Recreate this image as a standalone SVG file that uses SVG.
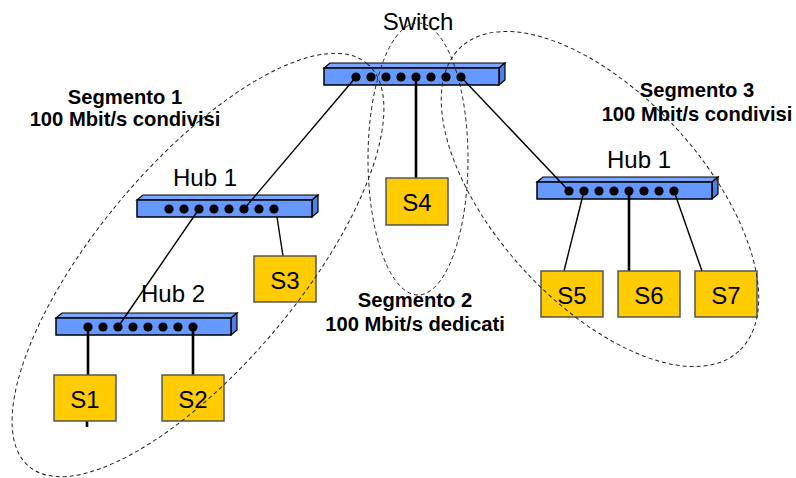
<svg xmlns="http://www.w3.org/2000/svg" width="796" height="478" viewBox="0 0 796 478">
<defs>
<style>
.front{fill:#6699FF;stroke:#000;stroke-width:1.5}
.top{fill:#7BA6FF;stroke:#000;stroke-width:1.2}
.side{fill:#4F80E6;stroke:#000;stroke-width:1.2}
.dot{fill:#000}
.box{fill:#FFCC00;stroke:#555;stroke-width:1.5}
.lbl{font-family:"Liberation Sans",Arial,sans-serif;font-size:24px;fill:#000;text-anchor:middle}
.seg{font-family:"Liberation Sans",Arial,sans-serif;font-size:20.2px;font-weight:bold;fill:#000;text-anchor:middle}
.thin{stroke:#000;stroke-width:1.4;fill:none}
.thick{stroke:#000;stroke-width:2.6;fill:none}
.ell{fill:none;stroke:#222;stroke-width:1;stroke-dasharray:4 3}
</style>
<g id="hubshape">
<polygon class="top" points="0,0 6,-5 181,-5 175,0"/>
<polygon class="side" points="175,0 181,-5 181,12 175,17"/>
<rect class="front" x="0" y="0" width="175" height="17"/>
<circle class="dot" cx="32" cy="9" r="4.6"/><circle class="dot" cx="47" cy="9" r="4.6"/><circle class="dot" cx="62" cy="9" r="4.6"/><circle class="dot" cx="77" cy="9" r="4.6"/><circle class="dot" cx="92" cy="9" r="4.6"/><circle class="dot" cx="107" cy="9" r="4.6"/><circle class="dot" cx="122" cy="9" r="4.6"/><circle class="dot" cx="137" cy="9" r="4.6"/>
</g>
</defs>
<rect width="796" height="478" fill="#fff"/>

<g id="switch">
<use href="#hubshape" x="324" y="68"/>
<text class="lbl" x="418" y="30">Switch</text>
</g>
<g id="hub1-left">
<use href="#hubshape" x="137" y="200"/>
<text class="lbl" x="205" y="186">Hub 1</text>
</g>
<g id="hub2">
<use href="#hubshape" x="56" y="318"/>
<text class="lbl" x="173" y="302">Hub 2</text>
</g>
<g id="hub1-right">
<use href="#hubshape" x="537" y="182"/>
<text class="lbl" x="639" y="168">Hub 1</text>
</g>

<g id="connectors">
<line class="thin" x1="356" y1="77" x2="244" y2="209"/>
<line class="thick" x1="416" y1="77" x2="416" y2="178"/>
<line class="thin" x1="461" y1="77" x2="569" y2="191"/>
<line class="thin" x1="199" y1="209" x2="118" y2="327"/>
<line class="thin" x1="277" y1="217" x2="283" y2="256"/>
<line class="thick" x1="88" y1="327" x2="88" y2="375"/>
<line class="thick" x1="193" y1="327" x2="193" y2="375"/>
<line class="thin" x1="584" y1="191" x2="564" y2="271"/>
<line class="thick" x1="629" y1="191" x2="629" y2="271"/>
<line class="thin" x1="674" y1="191" x2="702" y2="271"/>
<line class="thick" x1="87" y1="421" x2="87" y2="427"/>
</g>

<g id="S1"><rect class="box" x="54" y="375" width="62" height="46"/><text class="lbl" x="85" y="408">S1</text></g>
<g id="S2"><rect class="box" x="162" y="375" width="62" height="46"/><text class="lbl" x="193" y="408">S2</text></g>
<g id="S3"><rect class="box" x="254" y="256" width="62" height="46"/><text class="lbl" x="285" y="289">S3</text></g>
<g id="S4"><rect class="box" x="386" y="178" width="62" height="47"/><text class="lbl" x="417" y="211">S4</text></g>
<g id="S5"><rect class="box" x="541" y="271" width="62" height="46"/><text class="lbl" x="572" y="304">S5</text></g>
<g id="S6"><rect class="box" x="618" y="271" width="62" height="46"/><text class="lbl" x="649" y="304">S6</text></g>
<g id="S7"><rect class="box" x="695" y="271" width="62" height="46"/><text class="lbl" x="726" y="304">S7</text></g>

<g id="segment1">
<ellipse class="ell" cx="198" cy="265" rx="263" ry="101" transform="rotate(-50 198 265)"/>
<text class="seg" x="125" y="104">Segmento 1</text>
<text class="seg" x="125" y="126">100 Mbit/s condivisi</text>
</g>
<g id="segment2">
<ellipse class="ell" cx="418" cy="159" rx="50" ry="136"/>
<text class="seg" x="415" y="307">Segmento 2</text>
<text class="seg" x="415" y="331">100 Mbit/s dedicati</text>
</g>
<g id="segment3">
<ellipse class="ell" cx="600" cy="199" rx="206" ry="104" transform="rotate(47.6 600 199)"/>
<text class="seg" x="697" y="97">Segmento 3</text>
<text class="seg" x="697" y="121">100 Mbit/s condivisi</text>
</g>
</svg>
